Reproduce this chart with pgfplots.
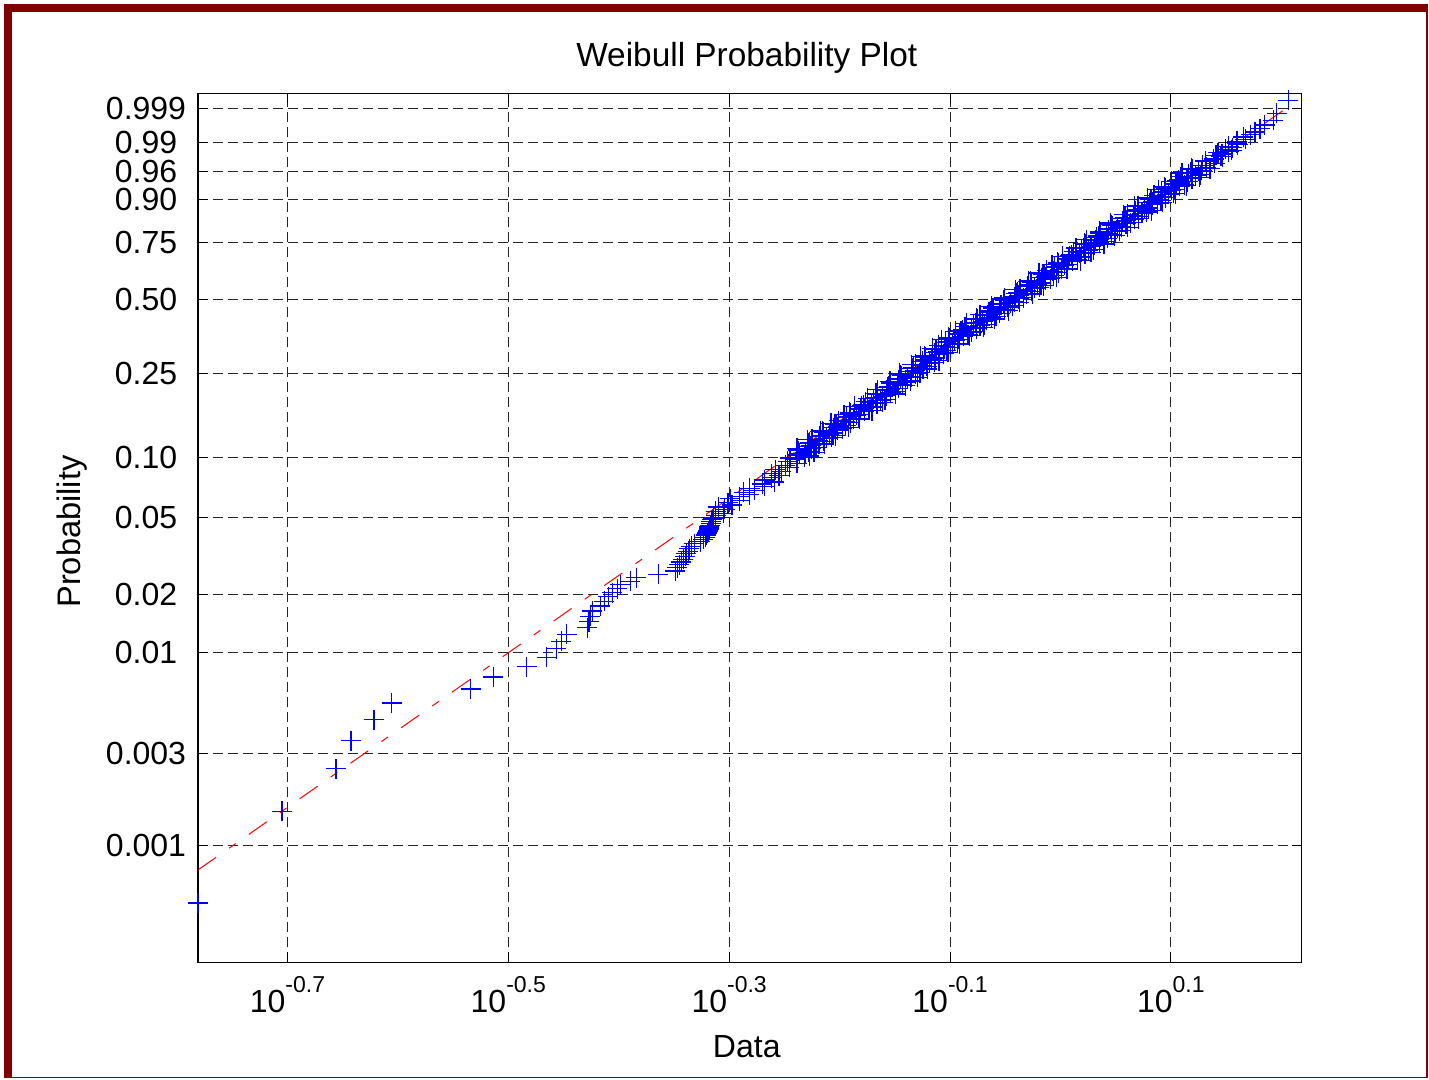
\documentclass[border=0pt]{standalone}
\usepackage{pgfplots}
\usepackage{pgfplotstable}
\pgfplotsset{compat=1.18}
\usepackage{fontspec}
\setmainfont{Liberation Sans}
\definecolor{framered}{RGB}{128,0,0}
\definecolor{fitgreen}{RGB}{0,128,0}
\definecolor{mblue}{RGB}{0,0,255}
\newcommand{\tl}[1]{10\raisebox{10pt}{\fontsize{11.5}{11.5}\selectfont #1}}
\pgfdeclareplotmark{bplus}{%
  \pgfsetstrokecolor{mblue}%
  \pgfpathmoveto{\pgfqpoint{-\pgfplotmarksize}{0pt}}%
  \pgfpathlineto{\pgfqpoint{\pgfplotmarksize}{0pt}}%
  \pgfpathmoveto{\pgfqpoint{0pt}{-\pgfplotmarksize}}%
  \pgfpathlineto{\pgfqpoint{0pt}{\pgfplotmarksize}}%
  \pgfusepathqstroke}

% X = log10(data), W = ln(-ln(1-p)) (Weibull probability scale)
\pgfplotstableread{
X W
-0.7810 -7.6007
-0.7050 -6.5015
-0.6561 -5.9902
-0.6425 -5.6533
-0.6217 -5.4014
-0.6057 -5.2003
-0.5342 -5.0327
-0.5137 -4.8891
-0.4835 -4.7634
-0.4652 -4.6517
-0.4564 -4.5511
-0.4519 -4.4597
-0.4473 -4.3758
-0.4283 -4.2983
-0.4270 -4.2264
-0.4256 -4.1592
-0.4238 -4.0961
-0.4166 -4.0368
-0.4129 -3.9808
-0.4093 -3.9276
-0.4057 -3.8771
-0.4012 -3.8290
-0.3985 -3.7830
-0.3894 -3.7391
-0.3840 -3.6969
-0.3641 -3.6564
-0.3487 -3.6174
-0.3469 -3.5799
-0.3451 -3.5437
-0.3433 -3.5087
-0.3415 -3.4748
-0.3396 -3.4421
-0.3387 -3.4103
-0.3369 -3.3795
-0.3360 -3.3496
-0.3342 -3.3205
-0.3315 -3.2922
-0.3261 -3.2647
-0.3234 -3.2379
-0.3215 -3.2117
-0.3206 -3.1863
-0.3197 -3.1614
-0.3188 -3.1371
-0.3179 -3.1133
-0.3179 -3.0901
-0.3170 -3.0673
-0.3161 -3.0450
-0.3161 -3.0233
-0.3152 -3.0019
-0.3143 -2.9811
-0.3122 -2.950
-0.3052 -2.925
-0.3122 -2.900
-0.3042 -2.875
-0.3100 -2.850
-0.2975 -2.825
-0.3010 -2.800
-0.2904 -2.775
-0.2989 -2.750
-0.2906 -2.725
-0.2818 -2.700
-0.2870 -2.675
-0.2772 -2.650
-0.2815 -2.625
-0.2677 -2.600
-0.2699 -2.575
-0.2590 -2.550
-0.2682 -2.525
-0.2616 -2.500
-0.2549 -2.475
-0.2615 -2.450
-0.2529 -2.425
-0.2583 -2.400
-0.2457 -2.375
-0.2491 -2.350
-0.2385 -2.325
-0.2469 -2.300
-0.2393 -2.275
-0.2317 -2.250
-0.2389 -2.225
-0.2311 -2.200
-0.2374 -2.175
-0.2256 -2.150
-0.2294 -2.125
-0.2187 -2.100
-0.2270 -2.075
-0.2193 -2.050
-0.2116 -2.025
-0.2179 -2.000
-0.2092 -1.975
-0.2145 -1.950
-0.2018 -1.925
-0.2051 -1.900
-0.1944 -1.875
-0.2027 -1.850
-0.1950 -1.825
-0.1873 -1.800
-0.1936 -1.775
-0.1850 -1.750
-0.1903 -1.725
-0.1776 -1.700
-0.1809 -1.675
-0.1702 -1.650
-0.1785 -1.625
-0.1708 -1.600
-0.1631 -1.575
-0.1694 -1.550
-0.1609 -1.525
-0.1664 -1.500
-0.1539 -1.475
-0.1574 -1.450
-0.1469 -1.425
-0.1554 -1.400
-0.1479 -1.375
-0.1404 -1.350
-0.1469 -1.325
-0.1384 -1.300
-0.1439 -1.275
-0.1314 -1.250
-0.1349 -1.225
-0.1244 -1.200
-0.1331 -1.175
-0.1257 -1.150
-0.1184 -1.125
-0.1250 -1.100
-0.1167 -1.075
-0.1224 -1.050
-0.1101 -1.025
-0.1138 -1.000
-0.1034 -0.975
-0.1121 -0.950
-0.1047 -0.925
-0.0974 -0.900
-0.1040 -0.875
-0.0957 -0.850
-0.1009 -0.825
-0.0881 -0.800
-0.0912 -0.775
-0.0804 -0.750
-0.0886 -0.725
-0.0808 -0.700
-0.0729 -0.675
-0.0791 -0.650
-0.0703 -0.625
-0.0755 -0.600
-0.0626 -0.575
-0.0658 -0.550
-0.0550 -0.525
-0.0631 -0.500
-0.0553 -0.475
-0.0475 -0.450
-0.0538 -0.425
-0.0451 -0.400
-0.0504 -0.375
-0.0378 -0.350
-0.0411 -0.325
-0.0304 -0.300
-0.0387 -0.275
-0.0310 -0.250
-0.0233 -0.225
-0.0296 -0.200
-0.0209 -0.175
-0.0262 -0.150
-0.0135 -0.125
-0.0168 -0.100
-0.0061 -0.075
-0.0144 -0.050
-0.0067 -0.025
0.0010 0.000
-0.0053 0.025
0.0034 0.050
-0.0019 0.075
0.0108 0.100
0.0075 0.125
0.0182 0.150
0.0099 0.175
0.0176 0.200
0.0253 0.225
0.0190 0.250
0.0277 0.275
0.0224 0.300
0.0351 0.325
0.0318 0.350
0.0424 0.375
0.0341 0.400
0.0418 0.425
0.0495 0.450
0.0432 0.475
0.0519 0.500
0.0466 0.525
0.0593 0.550
0.0560 0.575
0.0667 0.600
0.0584 0.625
0.0661 0.650
0.0738 0.675
0.0675 0.700
0.0762 0.725
0.0709 0.750
0.0836 0.775
0.0803 0.800
0.0910 0.825
0.0827 0.850
0.0904 0.875
0.0981 0.900
0.0918 0.925
0.1005 0.950
0.0952 0.975
0.1079 1.000
0.1046 1.025
0.1153 1.050
0.1069 1.075
0.1146 1.100
0.1223 1.125
0.1160 1.150
0.1247 1.175
0.1194 1.200
0.1321 1.225
0.1288 1.250
0.1395 1.275
0.1312 1.300
0.1389 1.325
0.1466 1.350
0.1454 1.3577
0.1408 1.3705
0.1463 1.3838
0.1427 1.3976
0.1523 1.4120
0.1549 1.4271
0.1496 1.4430
0.1555 1.4598
0.1524 1.4775
0.1604 1.4964
0.1597 1.5165
0.1599 1.5383
0.1675 1.5619
0.1656 1.5878
0.1724 1.6166
0.1762 1.6493
0.1807 1.6871
0.1849 1.7325
0.1928 1.7903
0.1958 1.8722
0.2063 2.0283
-0.2450 -2.2625
-0.2274 -2.2375
-0.2366 -2.2125
-0.2278 -2.1875
-0.2381 -2.1625
-0.2213 -2.1375
-0.2261 -2.1125
-0.2284 -2.0875
-0.2147 -2.0625
-0.2250 -2.0375
-0.2073 -2.0125
-0.2156 -1.9875
-0.2059 -1.9625
-0.2152 -1.9375
-0.1975 -1.9125
-0.2018 -1.8875
-0.2041 -1.8625
-0.1904 -1.8375
-0.2007 -1.8125
-0.1830 -1.7875
-0.1913 -1.7625
-0.1817 -1.7375
-0.1910 -1.7125
-0.1733 -1.6875
-0.1776 -1.6625
-0.1799 -1.6375
-0.1662 -1.6125
-0.1765 -1.5875
-0.1588 -1.5625
-0.1671 -1.5375
-0.1576 -1.5125
-0.1671 -1.4875
-0.1496 -1.4625
-0.1541 -1.4375
-0.1566 -1.4125
-0.1431 -1.3875
-0.1536 -1.3625
-0.1361 -1.3375
-0.1446 -1.3125
-0.1351 -1.2875
-0.1446 -1.2625
-0.1271 -1.2375
-0.1316 -1.2125
-0.1341 -1.1875
-0.1208 -1.1625
-0.1314 -1.1375
-0.1141 -1.1125
-0.1227 -1.0875
-0.1134 -1.0625
-0.1231 -1.0375
-0.1058 -1.0125
-0.1105 -0.9875
-0.1131 -0.9625
-0.0998 -0.9375
-0.1104 -0.9125
-0.0931 -0.8875
-0.1017 -0.8625
-0.0924 -0.8375
-0.1016 -0.8125
-0.0838 -0.7875
-0.0879 -0.7625
-0.0901 -0.7375
-0.0763 -0.7125
-0.0865 -0.6875
-0.0686 -0.6625
-0.0768 -0.6375
-0.0670 -0.6125
-0.0762 -0.5875
-0.0583 -0.5625
-0.0625 -0.5375
-0.0647 -0.5125
-0.0508 -0.4875
-0.0610 -0.4625
-0.0432 -0.4375
-0.0515 -0.4125
-0.0418 -0.3875
-0.0511 -0.3625
-0.0335 -0.3375
-0.0378 -0.3125
-0.0401 -0.2875
-0.0264 -0.2625
-0.0367 -0.2375
-0.0190 -0.2125
-0.0273 -0.1875
-0.0176 -0.1625
-0.0269 -0.1375
-0.0092 -0.1125
-0.0135 -0.0875
-0.0158 -0.0625
-0.0021 -0.0375
-0.0124 -0.0125
0.0053 0.0125
-0.0030 0.0375
0.0067 0.0625
-0.0026 0.0875
0.0151 0.1125
0.0108 0.1375
0.0085 0.1625
0.0222 0.1875
0.0119 0.2125
0.0296 0.2375
0.0213 0.2625
0.0310 0.2875
0.0217 0.3125
0.0394 0.3375
0.0351 0.3625
0.0327 0.3875
0.0464 0.4125
0.0361 0.4375
0.0538 0.4625
0.0455 0.4875
0.0552 0.5125
0.0459 0.5375
0.0636 0.5625
0.0593 0.5875
0.0570 0.6125
0.0707 0.6375
0.0604 0.6625
0.0781 0.6875
0.0698 0.7125
0.0795 0.7375
0.0702 0.7625
0.0879 0.7875
0.0836 0.8125
0.0813 0.8375
0.0950 0.8625
0.0847 0.8875
0.1024 0.9125
0.0941 0.9375
0.1038 0.9625
0.0945 0.9875
0.1122 1.0125
0.1079 1.0375
0.1056 1.0625
0.1192 1.0875
0.1089 1.1125
0.1266 1.1375
0.1183 1.1625
0.1280 1.1875
0.1187 1.2125
-0.2231 -2.194
-0.2386 -2.144
-0.2137 -2.094
-0.2293 -2.044
-0.2039 -1.994
-0.2175 -1.944
-0.1921 -1.894
-0.2077 -1.844
-0.1823 -1.794
-0.1960 -1.744
-0.1706 -1.694
-0.1862 -1.644
-0.1608 -1.594
-0.1744 -1.544
-0.1494 -1.494
-0.1654 -1.444
-0.1404 -1.394
-0.1544 -1.344
-0.1294 -1.294
-0.1454 -1.244
-0.1204 -1.194
-0.1347 -1.144
-0.1100 -1.094
-0.1264 -1.044
-0.1018 -0.994
-0.1161 -0.944
-0.0914 -0.894
-0.1077 -0.844
-0.0821 -0.794
-0.0954 -0.744
-0.0698 -0.694
-0.0851 -0.644
-0.0595 -0.594
-0.0728 -0.544
-0.0471 -0.494
-0.0625 -0.444
-0.0371 -0.394
-0.0508 -0.344
-0.0254 -0.294
-0.0410 -0.244
-0.0156 -0.194
-0.0292 -0.144
-0.0038 -0.094
-0.0194 -0.044
0.0060 0.006
-0.0076 0.056
0.0178 0.106
0.0022 0.156
0.0276 0.206
0.0140 0.256
0.0394 0.306
0.0238 0.356
0.0491 0.406
0.0355 0.456
0.0609 0.506
0.0453 0.556
0.0707 0.606
0.0571 0.656
0.0825 0.706
0.0669 0.756
0.0923 0.806
0.0787 0.856
0.1041 0.906
0.0885 0.956
0.1139 1.006
0.1003 1.056
0.1256 1.106
0.1100 1.156
0.1354 1.206
}\datatable

\begin{document}
\begin{tikzpicture}
\useasboundingbox (0,0) rectangle (714.5pt,540pt);
\fill[framered] (2pt,1pt) rectangle (6pt,538pt);
\fill[framered] (2pt,534pt) rectangle (714pt,538pt);
\fill[framered] (713pt,1pt) rectangle (714pt,538pt);
\fill[framered] (2pt,0.75pt) rectangle (714pt,1.5pt);
\begin{axis}[
  at={(99pt,58.85pt)}, anchor=south west,
  scale only axis, width=551.75pt, height=434.5pt,
  xmin=-0.7810, xmax=0.2183, ymin=-8.3107, ymax=2.1125,
  clip=false,
  axis line style={black, line width=0.75pt},
  tick align=inside, major tick length=5pt,
  tick style={black, line width=0.5pt},
  xtick={-0.7,-0.5,-0.3,-0.1,0.1},
  xticklabels={\tl{-0.7},\tl{-0.5},\tl{-0.3},\tl{-0.1},\tl{0.1}},
  ytick={-6.9073,-5.8077,-4.6002,-3.9019,-2.9702,-2.2504,-1.2459,-0.3665,0.3266,0.8340,1.1690,1.5272,1.9326},
  yticklabels={0.001,0.003,0.01,0.02,0.05,0.10,0.25,0.50,0.75,0.90,0.96,0.99,0.999},
  grid=major,
  major grid style={black!85, line width=0.5pt, dash pattern=on 5pt off 2.5pt},
  ticklabel style={font=\fontsize{16}{16}\selectfont},
  xticklabel style={anchor=base, yshift=-25.35pt},
  yticklabel style={anchor=center, xshift=-26pt},
  title={Weibull Probability Plot},
  title style={at={(axis description cs:0.4973,1.0176)}, anchor=base, font=\fontsize{16.7}{16.7}\selectfont},
  xlabel={Data},
  xlabel style={at={(axis description cs:0.4973,-0.1090)}, anchor=base, font=\fontsize{16}{16}\selectfont},
  ylabel={Probability},
  ylabel style={at={(axis description cs:-0.1069,0.4957)}, anchor=base, font=\fontsize{16.3}{16.3}\selectfont},
]
\addplot[only marks, mark=bplus, mark size=5pt, mblue,
  mark options={line width=0.6pt, solid}]
  table[x=X,y=W]{\datatable};
\addplot[fitgreen, line width=0.5pt] coordinates {(-0.1384,-1.2459) (0.0312,0.3266)};
\addplot[red, line width=0.5pt, dash pattern=on 11pt off 8pt on 4pt off 8pt] coordinates {(-0.7810,-7.2034) (0.2070,1.9566)};
\end{axis}
\end{tikzpicture}
\end{document}
